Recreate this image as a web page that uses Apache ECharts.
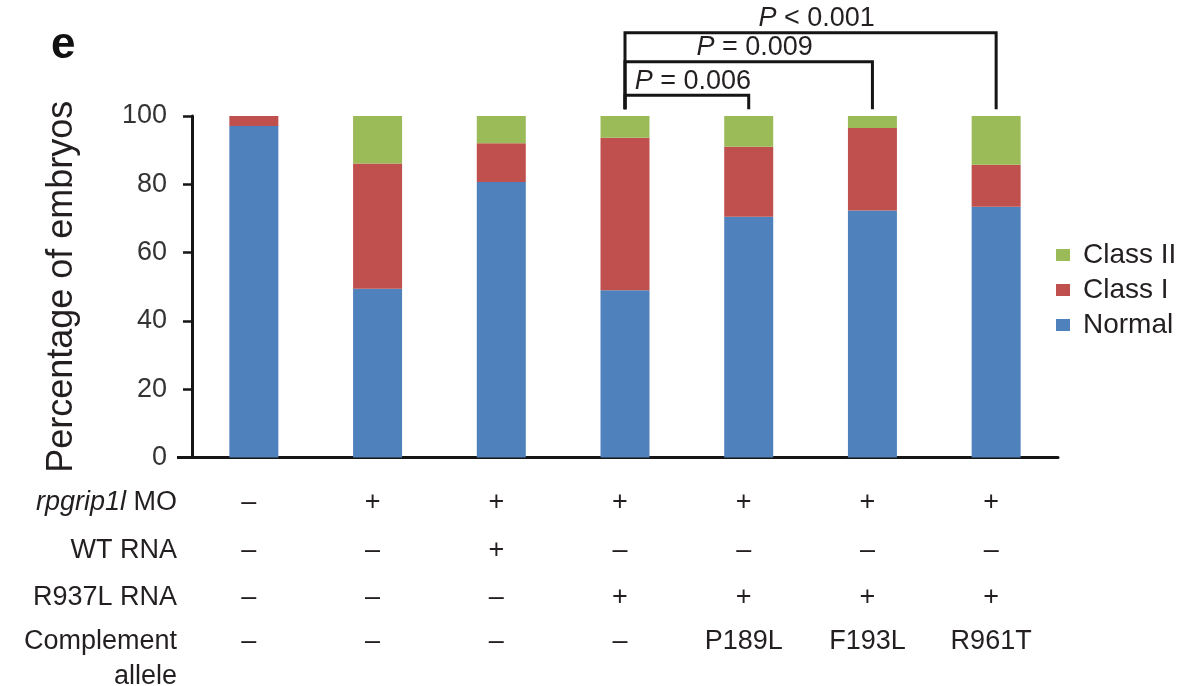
<!DOCTYPE html>
<html>
<head>
<meta charset="utf-8">
<script src="https://cdn.jsdelivr.net/npm/echarts@6/dist/echarts.min.js"></script>
<style>
  html, body { margin: 0; padding: 0; background: #ffffff; }
  #chart { width: 1192px; height: 686px; }
</style>
</head>
<body>
<div id="chart"></div>
<script>
// Injection groups (one stacked bar each)
const categories = ['Uninjected', 'MO', 'MO + WT', 'MO + R937L', 'MO + R937L + P189L', 'MO + R937L + F193L', 'MO + R937L + R961T'];

// Percentage of embryos per phenotype class
const normal  = [97.1, 49.4, 80.7, 49.0, 70.5, 72.3, 73.4];
const classI  = [2.9, 36.7, 11.3, 44.6, 20.5, 24.2, 12.3];
const classII = [0.0, 13.9, 8.0, 6.4, 9.0, 3.5, 14.3];

// Y axis ticks
const yMin = 0, yMax = 100, yStep = 20;

// Injection table under the bars
const rowTitles = ['{i|rpgrip1l} MO', 'WT RNA', 'R937L RNA', 'Complement\nallele'];
const rowMO         = ['–', '+', '+', '+', '+', '+', '+'];
const rowWT         = ['–', '–', '+', '–', '–', '–', '–'];
const rowR937L      = ['–', '–', '–', '+', '+', '+', '+'];
const rowComplement = ['–', '–', '–', '–', 'P189L', 'F193L', 'R961T'];

// Pairwise comparisons drawn as brackets above the bars
const compFrom  = [3, 3, 3];
const compTo    = [4, 5, 6];
const compLevel = [106.1, 115.9, 124.4];
const compFoot  = [102, 102, 102];
const compText  = ['{i|P} = 0.006', '{i|P} = 0.009', '{i|P} < 0.001'];

const FONT = '"Liberation Sans", Arial, Helvetica, sans-serif';
const INK = '#231f20';
const AXIS = '#151515';
const TXT = 27;

const GRID = { left: 192, right: 134, top: 116, bottom: 228.5 };
const BASE_Y = 686 - GRID.bottom;
const rowOffsets = [45, 93, 140, 184.2];
const tableRows = [rowMO, rowWT, rowR937L, rowComplement];

const chart = echarts.init(document.getElementById('chart'), null, { renderer: 'canvas' });

const tableAxes = tableRows.map((row, k) => ({
  type: 'category',
  gridIndex: 0,
  position: 'bottom',
  offset: rowOffsets[k],
  data: row,
  axisLine: { show: false },
  axisTick: { show: false },
  splitLine: { show: false },
  axisLabel: {
    show: true,
    interval: 0,
    margin: 0,
    fontSize: TXT,
    fontFamily: FONT,
    color: INK,
    verticalAlign: 'middle',
    padding: [0, 10, 0, 0]
  }
}));

const bracketData = compFrom.map((f, i) => [f, compTo[i], compLevel[i], compFoot[i]]);
const italicRich = { i: { fontStyle: 'italic', fontSize: TXT, fontFamily: FONT, fill: INK, color: INK } };

const option = {
  backgroundColor: '#ffffff',
  animation: false,
  textStyle: { fontFamily: FONT, color: INK },
  grid: {
    left: GRID.left, right: GRID.right, top: GRID.top, bottom: GRID.bottom,
    containLabel: false,
    outerBoundsMode: 'none'
  },
  legend: {
    data: ['Class II', 'Class I', 'Normal'],
    orient: 'vertical',
    left: 1051,
    top: 236,
    icon: 'rect',
    itemWidth: 14,
    itemHeight: 12,
    itemGap: 7,
    selectedMode: false,
    textStyle: { fontSize: 28, fontFamily: FONT, color: INK, lineHeight: 28, padding: [0, 0, 0, 8] }
  },
  xAxis: [{
    type: 'category',
    gridIndex: 0,
    data: categories,
    axisLine: { show: true, lineStyle: { color: AXIS, width: 3 } },
    axisTick: { show: false },
    axisLabel: { show: false },
    splitLine: { show: false }
  }].concat(tableAxes),
  yAxis: {
    type: 'value',
    min: yMin,
    max: yMax,
    interval: yStep,
    name: 'Percentage of embryos',
    nameLocation: 'middle',
    nameGap: 112,
    nameTextStyle: { fontSize: 36, fontFamily: FONT, color: INK },
    axisLine: { show: true, lineStyle: { color: AXIS, width: 3 } },
    axisTick: { show: true, inside: false, length: 9, lineStyle: { color: AXIS, width: 2.5 } },
    axisLabel: { fontSize: TXT, fontFamily: FONT, color: '#333333', margin: 25 },
    splitLine: { show: false }
  },
  series: [
    { name: 'Normal',   type: 'bar', stack: 'total', barWidth: 49, data: normal,  itemStyle: { color: '#4f81bd' } },
    { name: 'Class I',  type: 'bar', stack: 'total', barWidth: 49, data: classI,  itemStyle: { color: '#c0504d' } },
    { name: 'Class II', type: 'bar', stack: 'total', barWidth: 49, data: classII, itemStyle: { color: '#9bbb59' } },
    {
      name: 'comparisons',
      type: 'custom',
      silent: true,
      clip: false,
      data: bracketData,
      encode: { x: 0, y: 2 },
      renderItem: function (params, api) {
        const i = params.dataIndex;
        const x1 = api.coord([api.value(0), 0])[0];
        const x2 = api.coord([api.value(1), 0])[0];
        const yTop = api.coord([0, api.value(2)])[1];
        const yFoot = api.coord([0, api.value(3)])[1];
        return {
          type: 'group',
          children: [
            {
              type: 'polyline',
              shape: { points: [[x1, yFoot], [x1, yTop], [x2, yTop], [x2, yFoot]] },
              style: { stroke: AXIS, lineWidth: 3, fill: null, lineJoin: 'miter', lineCap: 'butt' }
            },
            {
              type: 'text',
              x: (x1 + x2) / 2 + 6,
              y: yTop - 14,
              style: {
                text: compText[i],
                align: 'center',
                verticalAlign: 'middle',
                fontSize: TXT,
                fontFamily: FONT,
                fill: INK,
                rich: italicRich
              }
            }
          ]
        };
      }
    }
  ],
  graphic: [
    // panel letter
    { type: 'text', left: 51, top: 24, style: { text: 'e', fontSize: 44, fontWeight: 'bold', fontFamily: FONT, fill: '#111111' } },
    // short extension of the baseline to the left of the value axis
    { type: 'line', shape: { x1: 177, y1: BASE_Y, x2: GRID.left, y2: BASE_Y }, style: { stroke: AXIS, lineWidth: 3 } },
    // row titles of the injection table
    { type: 'text', x: 177, y: BASE_Y + rowOffsets[0], style: { text: rowTitles[0], align: 'right', verticalAlign: 'middle', fontSize: TXT, fontFamily: FONT, fill: INK, rich: italicRich } },
    { type: 'text', x: 177, y: BASE_Y + rowOffsets[1], style: { text: rowTitles[1], align: 'right', verticalAlign: 'middle', fontSize: TXT, fontFamily: FONT, fill: INK } },
    { type: 'text', x: 177, y: BASE_Y + rowOffsets[2], style: { text: rowTitles[2], align: 'right', verticalAlign: 'middle', fontSize: TXT, fontFamily: FONT, fill: INK } },
    { type: 'text', x: 177, y: BASE_Y + rowOffsets[3] - 17.5, style: { text: rowTitles[3], align: 'right', verticalAlign: 'top', fontSize: TXT, lineHeight: 35, fontFamily: FONT, fill: INK } }
  ]
};

chart.setOption(option);
</script>
</body>
</html>
